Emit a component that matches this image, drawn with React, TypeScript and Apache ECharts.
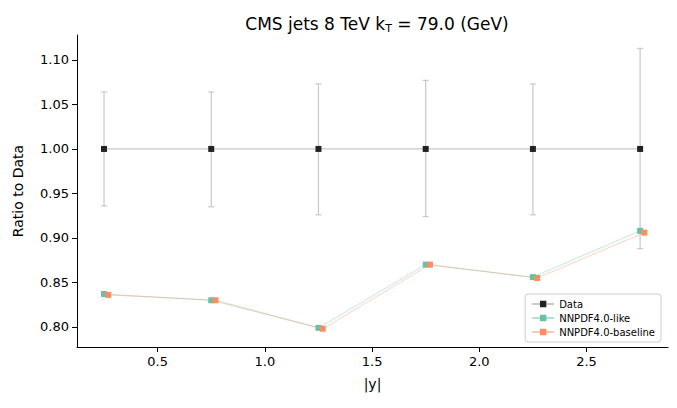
import { useEffect, useRef } from "react";
import * as echarts from "echarts";

const yBins = [0.25, 0.75, 1.25, 1.75, 2.25, 2.75];
const dataUpper = [1.064, 1.064, 1.073, 1.077, 1.073, 1.113];
const dataLower = [0.936, 0.935, 0.926, 0.924, 0.926, 0.888];
const likeValues = [0.837, 0.830, 0.799, 0.870, 0.856, 0.908];
const baselineValues = [0.836, 0.830, 0.798, 0.870, 0.855, 0.906];
const xTicks = [0.5, 1.0, 1.5, 2.0, 2.5];
const yTicks = [0.8, 0.85, 0.9, 0.95, 1.0, 1.05, 1.1];

const font = "DejaVu Sans";

export default function App() {
  const chartRef = useRef<HTMLDivElement>(null);

  useEffect(() => {
    if (!chartRef.current) return;
    const chart = echarts.init(chartRef.current, null, { renderer: "svg" });

    const errData = yBins.map((x, i) => [x, dataLower[i], dataUpper[i]]);

    const option = {
      animation: false,
      textStyle: { fontFamily: font },
      title: {
        text: "CMS jets 8 TeV k{s|T} = 79.0 (GeV)",
        left: 372,
        top: 8,
        textAlign: "center",
        textStyle: {
          fontSize: 17,
          fontWeight: "normal",
          color: "#000",
          fontFamily: font,
          rich: { s: { fontSize: 11, padding: [10, 0, 0, 0], fontFamily: font } },
        },
      },
      grid: { left: 77, right: 9, top: 35, bottom: 61 },
      legend: {
        right: 16,
        bottom: 66,
        orient: "vertical",
        itemWidth: 22,
        itemHeight: 8,
        itemGap: 4,
        padding: [5, 6, 5, 6],
        borderColor: "#ccc",
        borderWidth: 1,
        borderRadius: 3,
        backgroundColor: "rgba(255,255,255,0.8)",
        textStyle: { fontSize: 10, color: "#000", fontFamily: font },
        data: ["Data", "NNPDF4.0-like", "NNPDF4.0-baseline"],
      },
      xAxis: {
        type: "value",
        min: 0.124,
        max: 2.88,
        name: "|y|",
        nameLocation: "middle",
        nameGap: 30,
        nameTextStyle: { fontSize: 14, color: "#000" },
        axisLine: { lineStyle: { color: "#000" } },
        axisTick: { lineStyle: { color: "#000" }, length: 5, customValues: xTicks },
        axisLabel: {
          fontSize: 13,
          color: "#000",
          customValues: xTicks,
          formatter: (v: number) => v.toFixed(1),
        },
        splitLine: { show: false },
      },
      yAxis: {
        type: "value",
        min: 0.7775,
        max: 1.128,
        name: "Ratio to Data",
        nameLocation: "middle",
        nameGap: 52,
        nameTextStyle: { fontSize: 14, color: "#000" },
        axisLine: { show: true, lineStyle: { color: "#000" } },
        axisTick: { show: true, lineStyle: { color: "#000" }, length: 5, customValues: yTicks },
        axisLabel: {
          fontSize: 13,
          color: "#000",
          customValues: yTicks,
          formatter: (v: number) => v.toFixed(2),
        },
        splitLine: { show: false },
      },
      series: [
        {
          name: "Data",
          type: "line",
          data: yBins.map((x) => [x, 1.0]),
          symbol: "rect",
          symbolSize: 6,
          itemStyle: { color: "#222" },
          lineStyle: { color: "#c8c8c8", width: 1.2 },
          z: 3,
        },
        {
          name: "DataErr",
          type: "custom",
          data: errData,
          z: 2,
          renderItem: (params: any, api: any) => {
            const x = api.value(0);
            const lo = api.coord([x, api.value(1)]);
            const hi = api.coord([x, api.value(2)]);
            const w = 3;
            const style = { stroke: "#c8c8c8", lineWidth: 1.2 };
            return {
              type: "group",
              children: [
                { type: "line", shape: { x1: lo[0], y1: lo[1], x2: hi[0], y2: hi[1] }, style },
                { type: "line", shape: { x1: lo[0] - w, y1: lo[1], x2: lo[0] + w, y2: lo[1] }, style },
                { type: "line", shape: { x1: hi[0] - w, y1: hi[1], x2: hi[0] + w, y2: hi[1] }, style },
              ],
            };
          },
        },
        {
          name: "NNPDF4.0-like",
          type: "line",
          data: yBins.map((x, i) => [x, likeValues[i]]),
          symbol: "rect",
          symbolSize: 6,
          itemStyle: { color: "#66c2a5" },
          lineStyle: { color: "#66c2a5", width: 0.8, opacity: 0.5 },
          z: 4,
        },
        {
          name: "NNPDF4.0-baseline",
          type: "line",
          data: yBins.map((x, i) => [x + 0.02, baselineValues[i]]),
          symbol: "rect",
          symbolSize: 6,
          itemStyle: { color: "#fc8d62" },
          lineStyle: { color: "#fc8d62", width: 0.8, opacity: 0.5 },
          z: 5,
        },
      ],
    };

    chart.setOption(option as any);
    return () => chart.dispose();
  }, []);

  return (
    <div
      ref={chartRef}
      style={{ position: "fixed", left: 0, top: 0, width: 677, height: 408, background: "#fff" }}
    ></div>
  );
}
